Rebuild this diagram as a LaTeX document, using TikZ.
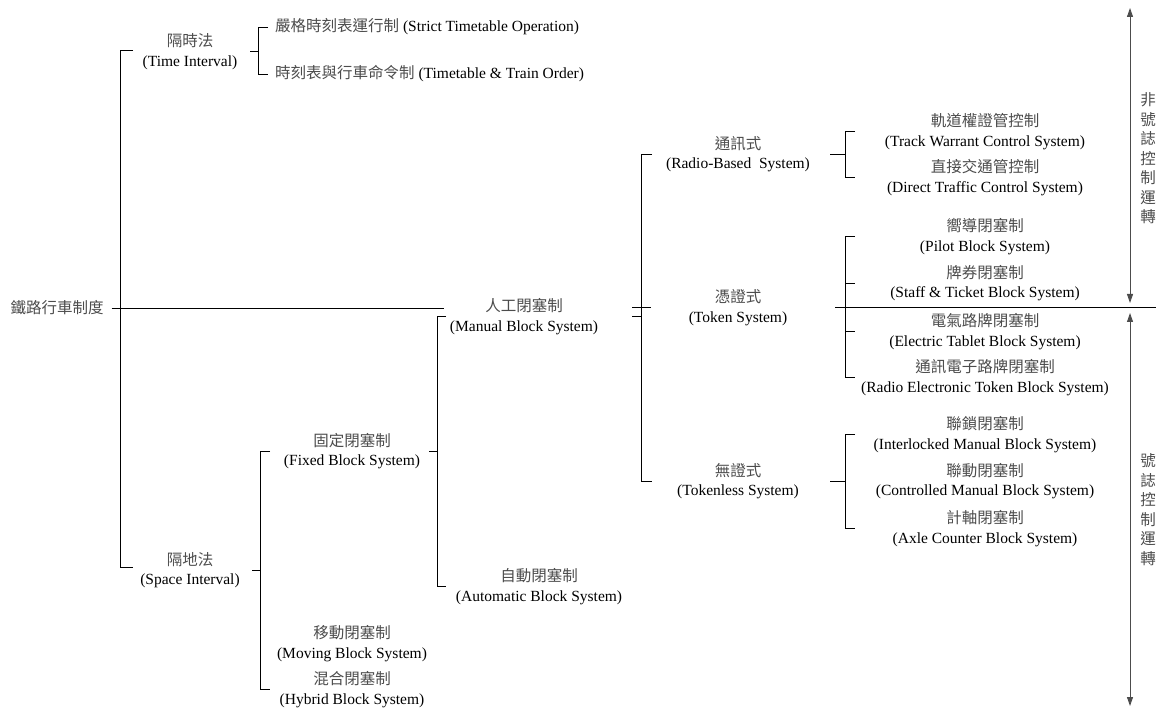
\documentclass[tikz,border=0pt]{standalone}
\usepackage{fontspec}
\setmainfont{Liberation Serif}
\newfontfamily\cjkfont{Noto Sans CJK TC}
\usetikzlibrary{arrows.meta}
\definecolor{zhgray}{gray}{0.3}
\newcommand{\zh}[1]{{\cjkfont\color{zhgray}#1}}

\begin{document}
\begin{tikzpicture}[x=1pt,y=-1pt,
  lab/.style={align=center, inner sep=0pt, font=\fontsize{15.5}{19.5}\selectfont},
  leaf/.style={anchor=west, inner sep=0pt, font=\fontsize{15.5}{19.5}\selectfont},
  wire/.style={line width=0.9pt},
  span/.style={line width=0.9pt, draw=black!70,
    {Triangle[length=9pt,width=6pt]}-{Triangle[length=9pt,width=6pt]}}
]
\useasboundingbox (0,0) rectangle (1156,708);

% ---- nodes ----
\node[lab] (root) at (57,308) {\zh{鐵路行車制度}};

\node[lab] (time)  at (190,51.5) {\zh{隔時法}\\(Time Interval)};
\node[leaf] (strict)  at (275,27) {\zh{嚴格時刻表運行制} (Strict Timetable Operation)};
\node[leaf] (ttorder) at (275,74) {\zh{時刻表與行車命令制} (Timetable \& Train Order)};

\node[lab] (space)  at (190,570)   {\zh{隔地法}\\(Space Interval)};
\node[lab] (fixed)  at (352,451)   {\zh{固定閉塞制}\\(Fixed Block System)};
\node[lab] (moving) at (352,643.5) {\zh{移動閉塞制}\\(Moving Block System)};
\node[lab] (hybrid) at (352,689.5) {\zh{混合閉塞制}\\(Hybrid Block System)};

\node[lab] (manual) at (524,316.5) {\zh{人工閉塞制}\\(Manual Block System)};
\node[lab] (auto)   at (539,586.5) {\zh{自動閉塞制}\\(Automatic Block System)};

\node[lab] (radio)     at (738,154)   {\zh{通訊式}\\(Radio-Based~ System)};
\node[lab] (token)     at (738,307.5) {\zh{憑證式}\\(Token System)};
\node[lab] (tokenless) at (738,481)   {\zh{無證式}\\(Tokenless System)};

\node[lab] (track)  at (985,131.5) {\zh{軌道權證管控制}\\(Track Warrant Control System)};
\node[lab] (direct) at (985,177.5) {\zh{直接交通管控制}\\(Direct Traffic Control System)};

\node[lab] (pilot)    at (985,236.5) {\zh{嚮導閉塞制}\\(Pilot Block System)};
\node[lab] (staff)    at (985,283)   {\zh{牌券閉塞制}\\(Staff \& Ticket Block System)};
\node[lab] (electric) at (985,331.5) {\zh{電氣路牌閉塞制}\\(Electric Tablet Block System)};
\node[lab] (radioet)  at (985,377.5) {\zh{通訊電子路牌閉塞制}\\(Radio Electronic Token Block System)};

\node[lab] (interlock)  at (985,434.5) {\zh{聯鎖閉塞制}\\(Interlocked Manual Block System)};
\node[lab] (controlled) at (985,481)   {\zh{聯動閉塞制}\\(Controlled Manual Block System)};
\node[lab] (axle)       at (985,528.5) {\zh{計軸閉塞制}\\(Axle Counter Block System)};

\node[lab] (nonsig) at (1148,158.5) {\zh{非}\\\zh{號}\\\zh{誌}\\\zh{控}\\\zh{制}\\\zh{運}\\\zh{轉}};
\node[lab] (sig)    at (1148,509.5) {\zh{號}\\\zh{誌}\\\zh{控}\\\zh{制}\\\zh{運}\\\zh{轉}};

% ---- bracket spines ----
\coordinate (rootS)  at (120,0);
\coordinate (timeS)  at (258,0);
\coordinate (spaceS) at (260,0);
\coordinate (fixedS) at (437,0);
\coordinate (manS)   at (641,0);
\coordinate (subS)   at (845,0);
\coordinate (edge)   at (1156,0);
\coordinate (axis)   at (1130,0);

% root: main line to manual block and bracket to the two intervals
\draw[wire] ([xshift=8pt]root.east) -- ([xshift=-6pt]manual.west |- root);
\draw[wire] ([xshift=13pt]rootS |- 0,50) -- (rootS |- 0,50) -- (rootS |- 0,567) -- ++(13,0);

% time interval
\draw[wire] ([xshift=-8pt]timeS |- time) -- (timeS |- time);
\draw[wire] ([xshift=10pt]timeS |- strict) -- (timeS |- strict)
  -- (timeS |- ttorder) -- ++(10,0);

% space interval
\draw[wire] ([xshift=-8pt]spaceS |- space) -- (spaceS |- space);
\draw[wire] ([xshift=10pt]spaceS |- fixed) -- (spaceS |- fixed)
  -- (spaceS |- hybrid) -- ++(10,0);

% fixed block
\draw[wire] ([xshift=-8pt]fixedS |- fixed) -- (fixedS |- fixed);
\draw[wire] ([xshift=9pt]fixedS |- manual) -- (fixedS |- manual)
  -- (fixedS |- 0,586) -- ++(9,0);

% manual block
\draw[wire] ([xshift=-9pt]manS |- manual) -- (manS |- manual);
\draw[wire] ([xshift=-9pt]manS |- token) -- ([xshift=10pt]manS |- token);
\draw[wire] ([xshift=11pt]manS |- radio) -- (manS |- radio)
  -- (manS |- tokenless) -- ++(11,0);

% radio-based
\draw[wire] ([xshift=-15pt]subS |- radio) -- (subS |- radio);
\draw[wire] ([xshift=10pt]subS |- track) -- (subS |- track)
  -- (subS |- direct) -- ++(10,0);

% token
\draw[wire] ([xshift=-10pt]subS |- token) -- (edge |- token);
\draw[wire] ([xshift=10pt]subS |- pilot) -- (subS |- pilot)
  -- (subS |- radioet) -- ++(10,0);
\draw[wire] (subS |- staff) -- ++(10,0);
\draw[wire] (subS |- electric) -- ++(10,0);

% tokenless
\draw[wire] ([xshift=-15pt]subS |- tokenless) -- (subS |- tokenless);
\draw[wire] ([xshift=10pt]subS |- interlock) -- (subS |- interlock)
  -- (subS |- axle) -- ++(10,0);

% operating-mode spans
\draw[span] (axis |- 0,8) -- (axis |- 0,303);
\draw[span] (axis |- 0,313) -- (axis |- 0,706);

\end{tikzpicture}
\end{document}
